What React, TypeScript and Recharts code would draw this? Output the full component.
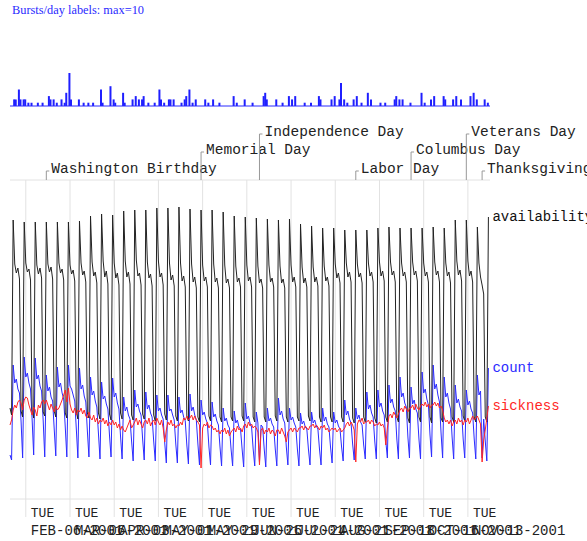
import React from "react";
import {
  LineChart,
  Line,
  XAxis,
  YAxis,
  ReferenceLine,
  LabelList,
  BarChart,
  Bar,
} from "recharts";

// day 0 = SAT JAN-27-2001, one point per day up to MON NOV-26-2001
// weekly rows run Monday..Sunday, starting MON JAN-29-2001

const availabilityLead = [91, 84];
const availabilityWeeks = [
  [279, 235, 226, 231, 220, 88, 82],
  [277, 236, 227, 230, 219, 89, 81],
  [277, 234, 225, 231, 221, 87, 83],
  [277, 235, 227, 232, 220, 88, 82],
  [277, 236, 226, 230, 219, 86, 81],
  [277, 234, 225, 229, 218, 87, 80],
  [278, 236, 224, 228, 217, 86, 81],
  [283, 237, 223, 227, 216, 86, 80],
  [285, 238, 222, 228, 215, 85, 79],
  [284, 236, 221, 226, 214, 86, 80],
  [288, 238, 222, 227, 215, 84, 79],
  [289, 239, 223, 226, 214, 85, 80],
  [289, 237, 221, 225, 213, 84, 78],
  [291, 238, 222, 226, 214, 85, 79],
  [291, 236, 219, 224, 213, 83, 78],
  [292, 236, 218, 223, 212, 83, 78],
  [290, 235, 217, 222, 211, 82, 77],
  [289, 234, 218, 222, 212, 83, 78],
  [289, 235, 217, 221, 211, 82, 77],
  [287, 234, 216, 220, 211, 82, 78],
  [283, 233, 217, 221, 212, 83, 78],
  [282, 234, 218, 222, 212, 82, 77],
  [281, 233, 216, 220, 211, 82, 77],
  [280, 234, 217, 221, 212, 83, 78],
  [279, 233, 216, 220, 211, 82, 77],
  [280, 234, 217, 222, 212, 82, 78],
  [275, 232, 216, 221, 212, 83, 78],
  [273, 232, 217, 222, 213, 82, 77],
  [271, 233, 218, 222, 213, 82, 77],
  [271, 235, 221, 226, 216, 82, 77],
  [269, 236, 222, 227, 217, 81, 76],
  [269, 235, 222, 226, 216, 82, 77],
  [269, 236, 223, 227, 217, 81, 76],
  [271, 237, 223, 228, 218, 82, 77],
  [272, 237, 224, 228, 217, 82, 77],
  [271, 236, 223, 227, 217, 81, 76],
  [271, 237, 224, 228, 218, 82, 77],
  [271, 236, 223, 227, 217, 82, 76],
  [272, 237, 224, 228, 217, 81, 77],
  [271, 236, 223, 227, 216, 82, 77],
  [279, 238, 224, 229, 218, 83, 78],
  [279, 238, 223, 228, 217, 82, 77],
  [272, 236, 222, 214, 205, 82, 77],
];
const availabilityTail = [282];

const countLead = [44, 39];
const countWeeks = [
  [134, 116, 120, 110, 106, 78, 41],
  [142, 122, 126, 116, 110, 80, 44],
  [141, 120, 124, 113, 108, 79, 42],
  [124, 108, 112, 102, 98, 70, 43],
  [132, 112, 116, 106, 100, 72, 42],
  [134, 113, 110, 104, 98, 70, 41],
  [131, 110, 114, 103, 97, 68, 42],
  [122, 104, 108, 98, 92, 66, 40],
  [117, 100, 103, 95, 90, 64, 42],
  [121, 102, 106, 96, 90, 63, 40],
  [102, 88, 92, 84, 80, 58, 38],
  [109, 92, 95, 88, 84, 60, 39],
  [107, 90, 94, 86, 82, 58, 38],
  [104, 88, 91, 84, 80, 56, 36],
  [104, 88, 90, 84, 79, 55, 36],
  [102, 86, 89, 82, 78, 54, 35],
  [105, 88, 92, 84, 79, 55, 34],
  [99, 84, 87, 80, 76, 52, 34],
  [97, 82, 85, 78, 74, 52, 33],
  [91, 78, 81, 74, 71, 50, 33],
  [88, 76, 79, 72, 70, 50, 32],
  [96, 80, 83, 76, 72, 50, 33],
  [87, 76, 37, 74, 72, 50, 32],
  [91, 78, 81, 75, 72, 50, 33],
  [101, 84, 88, 80, 76, 52, 34],
  [91, 79, 82, 76, 72, 50, 33],
  [86, 75, 78, 72, 70, 50, 34],
  [87, 76, 79, 73, 70, 50, 34],
  [91, 78, 82, 75, 72, 52, 36],
  [87, 76, 79, 73, 70, 52, 38],
  [99, 84, 88, 80, 76, 55, 39],
  [91, 80, 84, 77, 74, 54, 40],
  [107, 90, 94, 86, 82, 58, 40],
  [109, 92, 96, 88, 84, 58, 41],
  [114, 96, 100, 92, 88, 60, 40],
  [122, 102, 106, 96, 92, 62, 41],
  [112, 95, 99, 90, 86, 60, 40],
  [127, 106, 110, 100, 94, 64, 42],
  [134, 110, 115, 104, 97, 66, 41],
  [122, 102, 106, 96, 90, 62, 40],
  [114, 96, 100, 92, 88, 60, 41],
  [109, 94, 98, 90, 86, 60, 40],
  [124, 104, 108, 41, 80, 58, 38],
];
const countTail = [131];

const sicknessLead = [74, 79];
const sicknessWeeks = [
  [89, 94, 91, 97, 99, 96, 89],
  [99, 102, 101, 94, 89, 84, 92],
  [89, 83, 94, 91, 97, 99, 95],
  [99, 94, 89, 95, 91, 87, 93],
  [89, 91, 95, 99, 104, 109, 97],
  [111, 95, 89, 86, 91, 84, 89],
  [87, 91, 85, 89, 83, 81, 87],
  [81, 79, 84, 77, 81, 75, 79],
  [77, 81, 75, 79, 73, 77, 74],
  [79, 74, 77, 71, 75, 69, 73],
  [69, 67, 71, 75, 79, 71, 74],
  [77, 81, 74, 79, 75, 71, 77],
  [79, 75, 81, 73, 77, 79, 74],
  [81, 77, 74, 79, 71, 57, 69],
  [77, 74, 79, 73, 75, 71, 74],
  [73, 77, 74, 81, 79, 83, 79],
  [81, 84, 79, 83, 79, 77, 74],
  [31, 71, 75, 73, 77, 71, 74],
  [73, 69, 71, 67, 69, 65, 69],
  [67, 71, 65, 69, 63, 67, 69],
  [71, 67, 73, 69, 71, 67, 73],
  [75, 71, 77, 73, 75, 71, 73],
  [71, 67, 34, 69, 71, 65, 69],
  [67, 71, 65, 69, 67, 63, 69],
  [69, 65, 71, 67, 63, 57, 67],
  [69, 71, 67, 71, 69, 67, 71],
  [71, 73, 69, 73, 71, 69, 73],
  [73, 75, 71, 74, 72, 69, 73],
  [71, 74, 69, 71, 67, 69, 71],
  [69, 71, 67, 69, 71, 67, 69],
  [71, 75, 77, 73, 77, 74, 69],
  [37, 75, 79, 77, 81, 75, 77],
  [77, 79, 75, 79, 77, 73, 75],
  [74, 77, 73, 75, 71, 54, 71],
  [83, 85, 81, 87, 84, 81, 85],
  [89, 91, 87, 93, 90, 87, 91],
  [91, 94, 89, 95, 91, 89, 93],
  [95, 93, 97, 92, 95, 91, 94],
  [94, 97, 93, 96, 91, 93, 89],
  [81, 77, 79, 75, 79, 73, 77],
  [79, 75, 81, 77, 79, 74, 79],
  [77, 81, 75, 79, 83, 79, 81],
  [83, 79, 75, 37, 59, 69, 81],
];
const sicknessTail = [93];

// bursts per day (days not listed had none)
const burstDays = [
  2, 3, 5, 6, 8, 9, 11, 13, 17, 20, 24, 25, 27, 29, 32, 34, 35, 37, 38, 43, 46,
  49, 52, 57, 58, 63, 65, 66, 71, 72, 77, 79, 81, 83, 84, 87, 91, 94, 95, 97,
  100, 101, 103, 108, 110, 111, 113, 115, 117, 123, 125, 128, 132, 141, 143,
  148, 153, 160, 161, 162, 168, 172, 176, 178, 180, 186, 190, 195, 196, 203,
  205, 208, 209, 211, 213, 217, 219, 222, 226, 228, 234, 237, 243, 244, 246,
  248, 253, 260, 262, 266, 268, 274, 275, 280, 282, 285, 291, 293, 295, 300,
  302,
];
const burstCounts = [
  2, 2, 5, 2, 2, 2, 1, 1, 1, 1, 3, 2, 2, 1, 2, 1, 4, 10, 2, 2, 1,
  1, 1, 5, 1, 6, 2, 1, 4, 1, 2, 3, 2, 2, 3, 1, 1, 5, 2, 1,
  2, 2, 2, 1, 2, 3, 5, 1, 2, 2, 1, 2, 1, 3, 1,
  2, 1, 3, 4, 2, 2, 1, 3, 2, 3, 1, 1, 3, 2, 2,
  3, 2, 7, 2, 1, 2, 3, 1, 4, 2, 1, 1, 2, 3, 2,
  2, 1, 4, 1, 2, 3, 3, 2, 2, 3, 2, 3, 4, 2, 2,
  1,
];

const tickDays = [10, 38, 66, 94, 122, 150, 178, 206, 234, 262, 290];
const tickWeekday = "TUE";
const tickDates = [
  "FEB-06-2001",
  "MAR-06-2001",
  "APR-03-2001",
  "MAY-01-2001",
  "MAY-29-2001",
  "JUN-26-2001",
  "JUL-24-2001",
  "AUG-21-2001",
  "SEP-18-2001",
  "OCT-16-2001",
  "NOV-13-2001",
];

const holidayNames = [
  "Washington Birthday",
  "Memorial Day",
  "Independence Day",
  "Labor Day",
  "Columbus Day",
  "Veterans Day",
  "Thanksgiving",
];
const holidayDays = [23, 121, 158, 219, 254, 289, 299];
const holidayRows = [0, 1, 2, 0, 1, 2, 0];

const MONO = "'Liberation Mono', 'DejaVu Sans Mono', monospace";
const ROW_LIFT = [9, 28, 46];
const GRID = "#e2e2e2";
const Y_MAX = 319;

const availability = [...availabilityLead, ...availabilityWeeks.flat(), ...availabilityTail];
const count = [...countLead, ...countWeeks.flat(), ...countTail];
const sickness = [...sicknessLead, ...sicknessWeeks.flat(), ...sicknessTail];

const data = availability.map((a, i) => ({
  day: i,
  availability: a,
  count: count[i],
  sickness: sickness[i],
}));

const burstData = data.map((d) => ({ day: d.day, bursts: 0 }));
burstDays.forEach((d, j) => {
  burstData[d].bursts = burstCounts[j];
});

const lastIndex = data.length - 1;

function DateTick(props: any) {
  const { x, y, payload } = props;
  const i = tickDays.indexOf(payload.value);
  return (
    <g>
      <text x={x + 5} y={y} fontSize={13} fontFamily={MONO} fill="#222">
        {tickWeekday}
      </text>
      <text x={x + 5} y={y + 18} fontSize={14} fontFamily={MONO} fill="#222">
        {tickDates[i]}
      </text>
    </g>
  );
}

const holidayLabel = (name: string, row: number) => (props: any) => {
  const vb = props.viewBox || {};
  const x = vb.x;
  const top = vb.y;
  const yTop = top - ROW_LIFT[row];
  return (
    <g>
      <path d={`M${x},${top}V${yTop}h3`} stroke="#999" fill="none" />
      <text x={x + 5} y={yTop + 2} fontSize={14.5} fontFamily={MONO} fill="#222">
        {name}
      </text>
    </g>
  );
};

const endLabel = (name: string, color: string) => (props: any) => {
  if (props.index !== lastIndex) return null;
  const x = props.x ?? props.viewBox?.x;
  const y = props.y ?? props.viewBox?.y;
  return (
    <text x={x + 4} y={y + 4} fontSize={14} fontFamily={MONO} fill={color}>
      {name}
    </text>
  );
};

export default function App() {
  return (
    <div style={{ position: "absolute", left: 0, top: 0, width: 587, height: 541, background: "#fff" }}>
      <svg width={587} height={20} style={{ position: "absolute", left: 0, top: 0 }}>
        <text
          x={12}
          y={14}
          fontSize={13}
          fontFamily="'Liberation Serif', serif"
          fill="#2a2aff"
          textLength={132}
          lengthAdjust="spacingAndGlyphs"
        >
          Bursts/day labels: max=10
        </text>
      </svg>

      <div style={{ position: "absolute", left: 0, top: 0 }}>
        <BarChart
          width={587}
          height={120}
          data={burstData}
          margin={{ top: 73, right: 97, bottom: 14, left: 10 }}
          barCategoryGap={0}
          barGap={0}
        >
          <XAxis dataKey="day" hide />
          <YAxis hide domain={[0, 10]} />
          <ReferenceLine y={0} stroke="#2a2aff" />
          <Bar dataKey="bursts" fill="#1f1fff" isAnimationActive={false} />
        </BarChart>
      </div>

      <div style={{ position: "absolute", left: 0, top: 0 }}>
        <LineChart
          width={587}
          height={541}
          data={data}
          margin={{ top: 180, right: 97, bottom: 0, left: 10 }}
        >
          <ReferenceLine y={Y_MAX} stroke={GRID} />
          {tickDays.map((d) => (
            <ReferenceLine key={`grid-${d}`} x={d} stroke={GRID} />
          ))}
          <XAxis
            dataKey="day"
            type="number"
            domain={[0, 304]}
            ticks={tickDays}
            interval={0}
            height={42}
            tickSize={18}
            tickMargin={0}
            axisLine={{ stroke: GRID }}
            tickLine={{ stroke: GRID }}
            tick={DateTick}
          />
          <YAxis hide width={0} axisLine={false} tickLine={false} domain={[0, Y_MAX]} />
          {holidayDays.map((d, i) => (
            <ReferenceLine
              key={holidayNames[i]}
              x={d}
              stroke="none"
              strokeOpacity={0}
              label={holidayLabel(holidayNames[i], holidayRows[i])}
            />
          ))}
          <Line
            type="linear"
            dataKey="count"
            stroke="#2b2bff"
            strokeWidth={1}
            dot={false}
            activeDot={false}
            isAnimationActive={false}
          >
            <LabelList dataKey="count" content={endLabel("count", "#2b2bff")} />
          </Line>
          <Line
            type="linear"
            dataKey="availability"
            stroke="#222"
            strokeWidth={1}
            dot={false}
            activeDot={false}
            isAnimationActive={false}
          >
            <LabelList dataKey="availability" content={endLabel("availability", "#111")} />
          </Line>
          <Line
            type="linear"
            dataKey="sickness"
            stroke="#ff2626"
            strokeWidth={1}
            dot={false}
            activeDot={false}
            isAnimationActive={false}
          >
            <LabelList dataKey="sickness" content={endLabel("sickness", "#ff2626")} />
          </Line>
        </LineChart>
      </div>
    </div>
  );
}
